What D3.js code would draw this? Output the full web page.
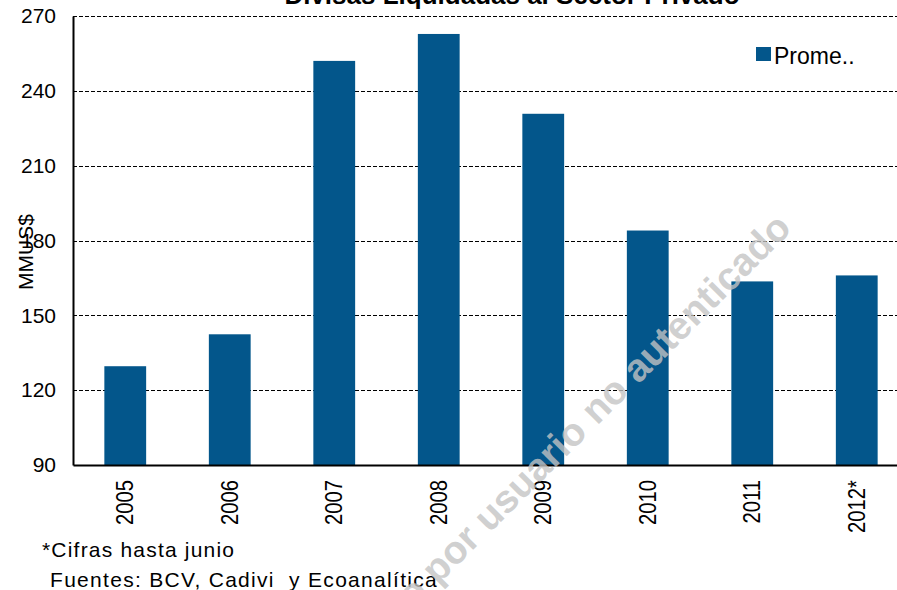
<!DOCTYPE html>
<html>
<head>
<meta charset="utf-8">
<script src="https://cdn.jsdelivr.net/npm/d3@7"></script>
<style>
  body { margin: 0; background: #fff; }
  svg { display: block; font-family: "Liberation Sans", Arial, sans-serif; }
</style>
</head>
<body>
<div id="chart"></div>
<script>
// data
const years = ["2005", "2006", "2007", "2008", "2009", "2010", "2011", "2012*"];
const promedio = [129.6, 142.4, 252, 262.8, 230.8, 184, 163.6, 166];
const yTicks = [90, 120, 150, 180, 210, 240, 270];
const seriesName = "Prome..";
const title = "Divisas Liquidadas al Sector Privado";
const notes = ["*Cifras hasta junio", "Fuentes: BCV, Cadivi  y Ecoanalítica"];
const watermark = "Documento descargado por usuario no autenticado";

const W = 897, H = 590;
const margin = { top: 16, right: -12, bottom: 125, left: 73 };
const barColor = "#03568b";

const svg = d3.select("#chart").append("svg")
    .attr("width", W)
    .attr("height", H);

const x = d3.scaleBand()
    .domain(years)
    .range([margin.left, W - margin.right])
    .paddingInner(0.6)
    .paddingOuter(0.3);

const y = d3.scaleLinear()
    .domain([90, 270])
    .range([H - margin.bottom, margin.top]);

// dashed grid
svg.append("g")
    .selectAll("line")
    .data(yTicks.filter(d => d > 90))
    .enter().append("line")
    .attr("x1", margin.left)
    .attr("x2", W)
    .attr("y1", d => Math.round(y(d)) + 0.5)
    .attr("y2", d => Math.round(y(d)) + 0.5)
    .attr("stroke", "#000")
    .attr("stroke-width", 1.2)
    .attr("stroke-dasharray", "4,2");

// bars
svg.append("g")
    .selectAll("rect")
    .data(promedio)
    .enter().append("rect")
    .attr("x", (d, i) => x(years[i]))
    .attr("width", x.bandwidth())
    .attr("y", d => y(d))
    .attr("height", d => y(90) - y(d))
    .attr("fill", barColor);

// axes
const yAxis = svg.append("g")
    .attr("transform", `translate(${margin.left},0)`)
    .call(d3.axisLeft(y).tickValues(yTicks).tickSize(0).tickPadding(17));
yAxis.select(".domain").attr("stroke", "#000").attr("stroke-width", 2);
yAxis.selectAll("text")
    .attr("font-size", 21)
    .attr("fill", "#000")
    .attr("font-family", "Liberation Sans, Arial, sans-serif");

const xAxis = svg.append("g")
    .attr("transform", `translate(0,${y(90)})`)
    .call(d3.axisBottom(x).tickSize(0).tickPadding(0));
xAxis.select(".domain").attr("stroke", "#000").attr("stroke-width", 2);
xAxis.selectAll("text")
    .attr("font-size", 23)
    .attr("fill", "#000")
    .attr("font-family", "Liberation Sans, Arial, sans-serif")
    .attr("transform", "rotate(-90)")
    .attr("text-anchor", "end")
    .attr("x", -15)
    .attr("y", 0)
    .attr("dy", "0.35em")
    .each(function() {
        // the labels in the picture are a little condensed
        const len = this.getComputedTextLength();
        d3.select(this).attr("textLength", len * 0.88).attr("lengthAdjust", "spacingAndGlyphs");
    });

// axis title
svg.append("text")
    .attr("transform", "translate(33,252) rotate(-90)")
    .attr("text-anchor", "middle")
    .attr("font-size", 21)
    .text("MMUS$");

// title, mostly cut off at the top
svg.append("text")
    .attr("x", 512)
    .attr("y", 4)
    .attr("text-anchor", "middle")
    .attr("font-size", 26)
    .attr("font-weight", "bold")
    .text(title);

// legend
svg.append("rect")
    .attr("x", 756).attr("y", 47)
    .attr("width", 15).attr("height", 14)
    .attr("fill", barColor);
svg.append("text")
    .attr("x", 774).attr("y", 64)
    .attr("font-size", 23)
    .text(seriesName);

// notes
svg.append("text")
    .attr("x", 42).attr("y", 557)
    .attr("font-size", 21)
    .attr("letter-spacing", 1.2)
    .text(notes[0]);
svg.append("text")
    .attr("x", 50).attr("y", 587)
    .attr("font-size", 21)
    .attr("letter-spacing", 1.3)
    .style("white-space", "pre")
    .text(notes[1]);

// watermark
svg.append("text")
    .attr("transform", "translate(793,230) rotate(-45)")
    .attr("text-anchor", "end")
    .attr("font-size", 39)
    .attr("font-weight", "bold")
    .attr("fill", "#c4c4c4")
    .attr("fill-opacity", 0.8)
    .text(watermark);
</script>
</body>
</html>
